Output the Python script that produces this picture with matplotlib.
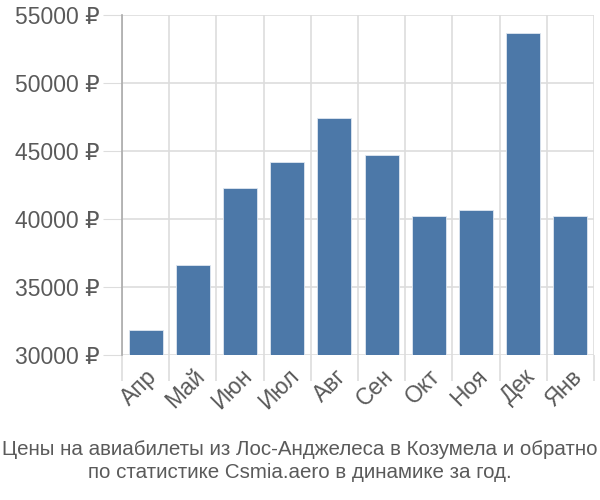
import numpy as np
import matplotlib
matplotlib.use('Agg')
import matplotlib.pyplot as plt

# Monthly ticket prices, rubles
months = ['Апр', 'Май', 'Июн', 'Июл', 'Авг', 'Сен', 'Окт', 'Ноя', 'Дек', 'Янв']
prices = [31850, 36600, 42250, 44200, 47400, 44700, 40200, 40650, 53650, 40200]
yticks = [30000, 35000, 40000, 45000, 50000, 55000]

title = ('Цены на авиабилеты из Лос-Анджелеса в Козумела и обратно\n'
         'по статистике Csmia.aero в динамике за год.')

plt.rcParams['font.family'] = ['Liberation Sans', 'DejaVu Sans']
text_col = '#5a5a5a'
grid_col = '#dddddd'

fig = plt.figure(figsize=(6, 5), dpi=100)
ax = fig.add_axes([0.2033, 0.29, 0.7867, 0.68])

x = np.arange(len(months))
ax.bar(x, prices, width=0.72, color='#4c78a8', edgecolor='#dfe7f0', linewidth=0.6, zorder=3)

ax.set_xlim(-0.5, len(months) - 0.5)
ax.set_ylim(30000, 55000)

ax.set_yticks(yticks)
ax.set_yticklabels([f'{v} ₽' for v in yticks], fontsize=16.5, color=text_col)
ax.tick_params(axis='y', length=14, color=grid_col, pad=2)

ax.set_xticks(x)
ax.set_xticklabels(months, rotation=45, ha='right', rotation_mode='anchor',
                   fontsize=16.5, color=text_col)
ax.tick_params(axis='x', which='major', length=0, pad=7)
ax.set_xticks(np.arange(len(months) + 1) - 0.5, minor=True)
ax.tick_params(axis='x', which='minor', length=19, color=grid_col, width=1.2)

ax.grid(True, axis='y', color=grid_col, linewidth=1.2, zorder=0)
ax.grid(True, axis='x', which='minor', color=grid_col, linewidth=1.2, zorder=0)

for s in ['top', 'right', 'bottom']:
    ax.spines[s].set_visible(False)
ax.spines['left'].set_color('#aaaaaa')
ax.spines['left'].set_linewidth(1.2)
ax.spines['left'].set_bounds(30000, 55000)

fig.text(0.5, 0.078, title, ha='center', va='center', fontsize=14.8,
         color=text_col, linespacing=1.3,
         family=['Liberation Sans Narrow', 'Liberation Sans', 'DejaVu Sans'])

fig.savefig('out.png', dpi=100)
